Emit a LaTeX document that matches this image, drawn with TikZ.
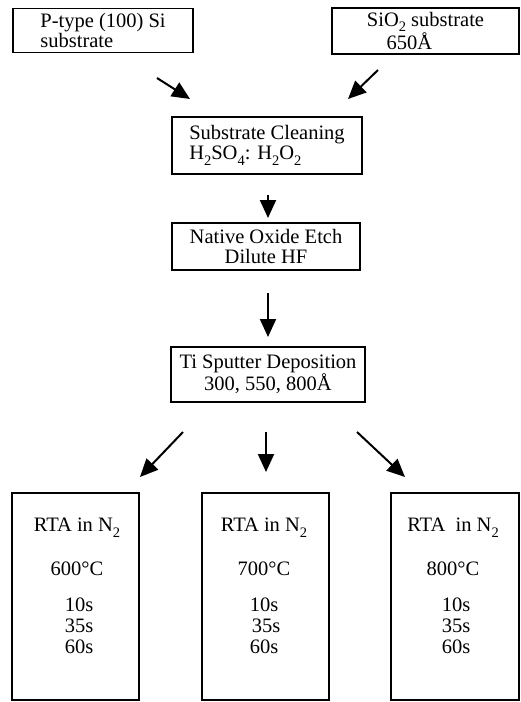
\documentclass[tikz,border=0pt]{standalone}
\usepackage{fontspec}
\setmainfont{Liberation Serif}
\usetikzlibrary{arrows.meta}
% low, fairly large subscript as in typewritten formulas
\newcommand\lowsub[1]{\raisebox{-0.28em}{\fontsize{14.5}{14.5}\selectfont #1}}

\begin{document}
\begin{tikzpicture}[x=1pt, y=-1pt,
  every node/.style={font=\fontsize{20.5}{20.5}\selectfont, inner sep=0pt},
  stepbox/.style={draw, line width=1.4pt, align=center},
  leftbox/.style={stepbox, align=left},
  rtabox/.style={draw, line width=1.4pt, minimum width=127pt, minimum height=207pt},
  rtatext/.style={anchor=north, align=center, font=\fontsize{20.5}{21}\selectfont},
  arr/.style={line width=2pt, -{Triangle[length=18pt, width=16pt]}}
]
\useasboundingbox (0,0) rectangle (521,702);

% starting materials
\node[leftbox, minimum width=180pt, minimum height=44pt] (psi) at (103,30.5)
  {P-type (100) Si\\substrate};
\node[stepbox, minimum width=187pt, minimum height=46pt] (sio) at (425.5,31)
  {SiO\lowsub{2} substrate\\650Å\hspace*{32pt}};

% process steps
\node[leftbox, minimum width=190pt, minimum height=57pt] (clean) at (267,145.5)
  {Substrate Cleaning\\H\lowsub{2}SO\lowsub{4}: H\lowsub{2}O\lowsub{2}};
\node[stepbox, minimum width=188pt, minimum height=47pt] (etch) at (266,246.5)
  {Native Oxide Etch\\Dilute HF};
\node[stepbox, minimum width=194pt, minimum height=55pt] (ti) at (268,374.5)
  {Ti Sputter Deposition\\300, 550, 800Å};

% annealing branches
\node[rtabox] (r1) at (75.5,596.5) {};
\node[rtabox] (r2) at (265.5,596.5) {};
\node[rtabox, minimum width=128pt] (r3) at (455,596.5) {};
\node[rtatext] (t1) at (77,518)
  {RTA in N\lowsub{2}\\[23pt]600°C\hspace*{12pt}\\[15pt]\hspace*{4pt}10s\\\hspace*{4pt}35s\\\hspace*{4pt}60s};
\node[rtatext] (t2) at (264,518)
  {RTA in N\lowsub{2}\\[23pt]700°C\\[15pt]10s\\\hspace*{4pt}35s\\60s};
\node[rtatext] (t3) at (453,518)
  {RTA\ \ in N\lowsub{2}\\[23pt]800°C\hspace*{10pt}\\[15pt]\hspace*{6pt}10s\\\hspace*{6pt}35s\\\hspace*{6pt}60s};

% arrow end points
\coordinate (a1s) at (157,78);  \coordinate (a1e) at (190,99);
\coordinate (a2s) at (378,70);  \coordinate (a2e) at (348,99);
\coordinate (a3s) at (268,195); \coordinate (a3e) at (268,218);
\coordinate (a4s) at (268,293); \coordinate (a4e) at (268,337);
\coordinate (b1s) at (183,432); \coordinate (b1e) at (140,477);
\coordinate (b2s) at (266,432); \coordinate (b2e) at (266,472);
\coordinate (b3s) at (357,432); \coordinate (b3e) at (405,477);

\draw[arr] (a1s) -- (a1e);
\draw[arr] (a2s) -- (a2e);
\draw[arr] (a3s) -- (a3e);
\draw[arr] (a4s) -- (a4e);
\draw[arr] (b1s) -- (b1e);
\draw[arr] (b2s) -- (b2e);
\draw[arr] (b3s) -- (b3e);
\end{tikzpicture}
\end{document}
